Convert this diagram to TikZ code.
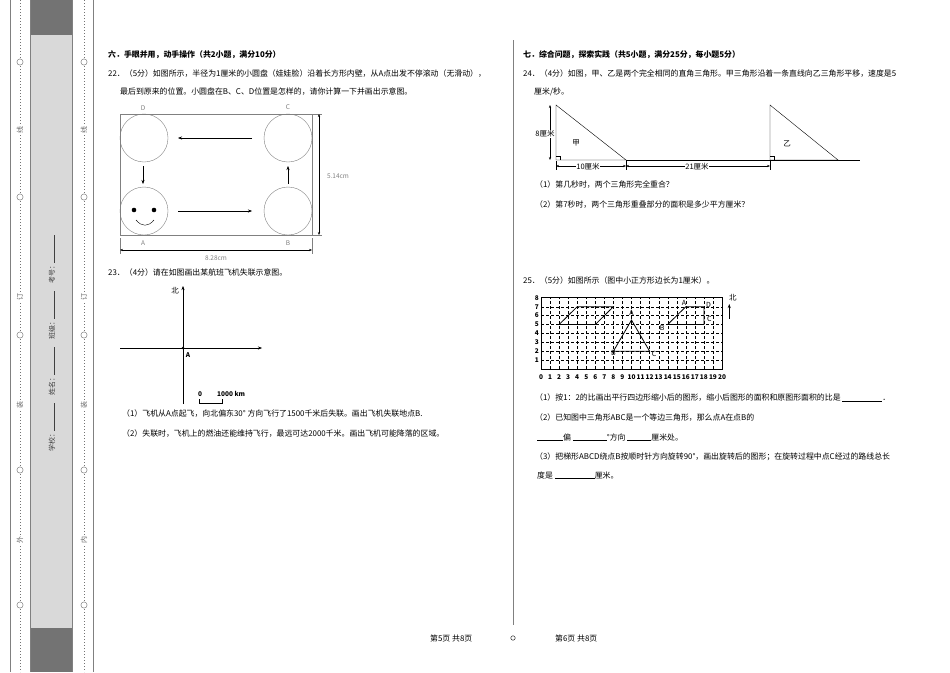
\documentclass[tikz,border=0pt]{standalone}
\usepackage{fontspec}
\setmainfont{Noto Sans CJK SC}
\usetikzlibrary{arrows.meta}
\begin{document}
\begin{tikzpicture}[x=1pt,y=-1pt,
  txt/.style={anchor=west,inner sep=0,font=\fontsize{7.9}{9}\selectfont},
  ttl/.style={txt,font=\fontsize{7.9}{9}\selectfont\bfseries},
  sm/.style={inner sep=0.5,font=\fontsize{6.5}{7}\selectfont,text=gray},
  arr/.style={-{Stealth[length=4pt]},thin},
  dim/.style={{Stealth[length=3pt]}-{Stealth[length=3pt]},thin},
  binmark/.style={fill=white,inner sep=1,font=\fontsize{7}{8}\selectfont,text=black!60}]
\useasboundingbox (0,0) rectangle (950,672);
% left binding strip
\fill[gray!30] (30,0) rectangle (72,672);
\fill[gray!90!black] (30,0) rectangle (72,35);
\fill[gray!90!black] (30,628) rectangle (72,672);
\draw[gray] (10,0)--(10,672) (30,0)--(30,672) (72,0)--(72,672) (93,0)--(93,672);
\foreach \cx in {20,84}{
  \draw[black!55,dotted,line width=1pt] (\cx,0)--(\cx,672);
  \foreach \cy in {62,197,335,470,605} \node[binmark,circle,draw=black!60,inner sep=2.2pt] at (\cx,\cy) {};
  \foreach \cy/\t in {130/线,297/订,405/装} \node[binmark,rotate=90] at (\cx,\cy) {\t};
}
\node[binmark,rotate=90] (wai) at (20,540) {外};
\node[binmark,rotate=90] (nei) at (84,540) {内};
\node[rotate=90,inner sep=0,font=\fontsize{7}{8}\selectfont,text=black!75,anchor=west] (info) at (52,452)
 {学校：\rule{28pt}{0.4pt}\quad 姓名：\rule{28pt}{0.4pt}\quad 班级：\rule{28pt}{0.4pt}\quad 考号：\rule{28pt}{0.4pt}};
% middle divider and footer
\draw[gray] (513,40)--(513,625);
\node[txt] (f1) at (430,638) {第5页\ 共8页};
\node[circle,draw,inner sep=1.6pt] (fc) at (513,638) {};
\node[txt] (f2) at (555,638) {第6页\ 共8页};
% ===== Section 6 =====
\node[ttl] (t6) at (108,55) {六．手眼并用，动手操作（共2小题，满分10分）};
\node[txt] (q22) at (108,74) {22．（5分）如图所示，半径为1厘米的小圆盘（娃娃脸）沿着长方形内壁，从\textit{A}点出发不停滚动（无滑动），};
\node[txt] (q22b) at (120,92) {最后到原来的位置。小圆盘在\textit{B}、\textit{C}、\textit{D}位置是怎样的，请你计算一下并画出示意图。};
\draw[gray] (120,114) rectangle (312,235);
\foreach \n/\x/\y in {cd/144/138,cc/288/138,ca/144/211,cb/288/211}
  \node[circle,draw=gray,minimum size=48pt,inner sep=0] (\n) at (\x,\y) {};
\node[sm] (ld) at (143,108) {D};
\node[sm] (lc) at (288,107) {C};
\node[sm] (la) at (143,243) {A};
\node[sm] (lb) at (288,243) {B};
\fill (134,210) circle (2.3pt) (154,210) circle (2.3pt);
\draw (136,220) .. controls (142,227) and (148,227) .. (154,220);
\draw[arr] (252,138)--(178,138);
\draw[arr] (178,211)--(252,211);
\draw[arr] (143,166)--(143,184);
\draw[arr] (288,184)--(288,166);
\draw[gray,thin] (312,114)--(322,114) (312,235)--(322,235) (120,238)--(120,254) (312,238)--(312,254);
\draw[dim] (319,114)--(319,235);
\node[sm,fill=white] (d1) at (338,176) {5.14cm};
\draw[dim] (120,250)--(312,250);
\node[sm] (d2) at (216,258) {8.28cm};
% Q23
\node[txt] (q23) at (108,272) {23．（4分）请在如图画出某航班飞机失联示意图。};
\draw[-{Stealth[length=4pt]}] (183,404)--(183,286);
\draw[-{Stealth[length=4pt]}] (120,348)--(262,348);
\fill (183,348) circle (1.3pt);
\node[inner sep=0,font=\fontsize{7.5}{8}\selectfont] (bei) at (175,291) {北};
\node[inner sep=0,font=\fontsize{6.5}{8}\selectfont\bfseries\itshape] (ptA) at (188,355) {A};
\node[inner sep=0,font=\fontsize{6.5}{8}\selectfont\bfseries] (s0) at (200,394) {0};
\node[inner sep=0,font=\fontsize{6.5}{8}\selectfont\bfseries,anchor=west] (s1) at (217,394) {1000 km};
\draw (199,399)--(199,403)--(222,403)--(222,399);
\node[txt] (q23a) at (122,414) {（1）飞机从\textit{A}点起飞，向北偏东30°\ 方向飞行了1500千米后失联。画出飞机失联地点\textit{B}.};
\node[txt] (q23b) at (122,434) {（2）失联时，飞机上的燃油还能维持飞行，最远可达2000千米。画出飞机可能降落的区域。};
% ===== Section 7 =====
\node[ttl] (t7) at (523,55) {七．综合问题，探索实践（共5小题，满分25分，每小题5分）};
\node[txt] (q24) at (523,74) {24．（4分）如图，甲、乙是两个完全相同的直角三角形。甲三角形沿着一条直线向乙三角形平移，速度是5};
\node[txt] (q24b) at (534,92) {厘米/秒。};
\draw (556,105)--(556,160)--(626,160)--cycle;
\draw (770,105)--(770,160)--(838,160)--cycle;
\draw (626,160)--(860,160);
\draw (556,156)--(560,156)--(560,160) (770,156)--(774,156)--(774,160);
\draw[dim] (550,105)--(550,160);
\node[inner sep=0.5,fill=white,font=\fontsize{7.5}{8}\selectfont] (h8) at (545,134) {8厘米};
\node[inner sep=0,font=\fontsize{7.5}{8}\selectfont] (jia) at (576,143) {甲};
\node[inner sep=0,font=\fontsize{7.5}{8}\selectfont] (yi) at (787,144) {乙};
\draw[dim] (556,166)--(626,166);
\draw[dim] (626,166)--(770,166);
\draw (556,161)--(556,170) (626,161)--(626,170) (770,161)--(770,170);
\node[inner sep=0.5,fill=white,font=\fontsize{7.5}{8}\selectfont] (w10) at (588,167) {10厘米};
\node[inner sep=0.5,fill=white,font=\fontsize{7.5}{8}\selectfont] (w21) at (697,167) {21厘米};
\node[txt] (q24c) at (535,185) {（1）第几秒时，两个三角形完全重合？};
\node[txt] (q24d) at (535,205) {（2）第7秒时，两个三角形重叠部分的面积是多少平方厘米？};
% Q25
\node[txt] (q25) at (523,280) {25．（5分）如图所示（图中小正方形边长为1厘米）。};
\begin{scope}[shift={(541,369)},x=9.05pt,y=8.9pt]
  \foreach \i in {1,...,19} \draw[densely dashed,line width=0.3pt] (\i,0)--(\i,8);
  \foreach \j in {1,...,7} \draw[densely dashed,line width=0.3pt] (0,\j)--(20,\j);
  \draw[line width=1pt] (0,0) rectangle (20,8);
  \foreach \i in {0,...,20} \node[inner sep=0,font=\fontsize{6.5}{7}\selectfont\bfseries] at (\i,-0.95) {\i};
  \foreach \j in {1,...,8} \node[inner sep=0,font=\fontsize{6.5}{7}\selectfont\bfseries] at (-0.45,\j) {\j};
  \draw[line width=0.8pt] (2,5)--(4,7)--(8,7)--(6,5)--cycle;
  \draw[line width=0.8pt] (8,2)--(12,2)--(10,5.5)--cycle;
  \draw[line width=0.8pt] (14,5)--(16,7)--(18,7)--(18,5)--cycle;
  \foreach \p/\t in {{(8,1.8)}/B,{(12.5,1.7)}/C,{(10,6.3)}/A,{(13.4,4.6)}/B,{(15.8,7.4)}/A,{(18.5,7.2)}/D,{(18.6,5.6)}/C}
    \node[inner sep=0,font=\fontsize{7}{8}\selectfont] at \p {\t};
  \draw[line width=1pt,-{Stealth[length=4pt]}] (20.8,5.6)--(20.8,7.3);
  \node[inner sep=0,font=\fontsize{7.5}{8}\selectfont] at (21.2,8) {北};
\end{scope}
\node[txt] (q25a) at (535,398) {（1）按1：2的比画出平行四边形缩小后的图形，缩小后图形的面积和原图形面积的比是\ \rule{40pt}{0.4pt}．};
\node[txt] (q25b) at (535,418) {（2）已知图中三角形\textit{ABC}是一个等边三角形，那么点\textit{A}在点\textit{B}的};
\node[txt] (q25c) at (537,437) {\rule{26pt}{0.4pt}偏\ \rule{34pt}{0.4pt}°方向\ \rule{24pt}{0.4pt}厘米处。};
\node[txt] (q25d) at (535,457) {（3）把梯形\textit{ABCD}绕点\textit{B}按顺时针方向旋转90°，画出旋转后的图形；在旋转过程中点\textit{C}经过的路线总长};
\node[txt] (q25e) at (537,475) {度是\ \rule{40pt}{0.4pt}厘米。};
\end{tikzpicture}
\end{document}
